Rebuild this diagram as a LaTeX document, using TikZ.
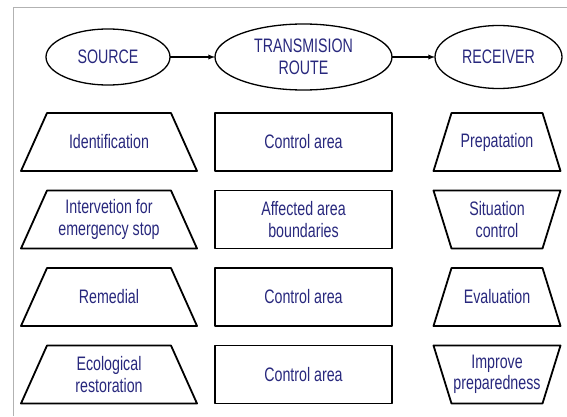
\documentclass[tikz,border=0pt]{standalone}
\usepackage{fontspec}
\setmainfont{Liberation Sans}[FakeStretch=0.73]
\usepackage{tikz}
\usetikzlibrary{arrows,shapes.geometric}
\definecolor{labelblue}{RGB}{40,40,125}

\begin{document}
\begin{tikzpicture}[x=1pt, y=1pt, node distance={77.5pt}, line width=1.8pt, line join=round,
  every node/.style = {text=labelblue, font=\fontsize{19.5}{21.5}\selectfont, align=center, inner sep=0pt, outer sep=0pt},
  main/.style = {draw, ellipse, line width=1.3pt},
  srcbox/.style = {rectangle, minimum width=176pt, minimum height=58pt},
  routebox/.style = {draw, rectangle, minimum width=177pt, minimum height=58pt},
  rcvbox/.style = {rectangle, minimum width=127pt, minimum height=58pt}]
\useasboundingbox (0,0) rectangle (567,416);
\draw[gray!60, line width=0.8pt] (13,0) -- (13,409) -- (567,409);

\node[main, minimum width=124pt, minimum height=56pt] (src) at (108,359) {SOURCE};
\node[main, minimum width=177pt, minimum height=66pt] (route) at (303.5,359) {TRANSMISION\\ROUTE};
\node[main, minimum width=127pt, minimum height=63pt] (rcv) at (498.5,359) {RECEIVER};
\draw[-latex, line width=1.3pt] (src) -- (route);
\draw[-latex, line width=1.3pt] (route) -- (rcv);

\node[srcbox] (src1) at (109,274) {Identification};
\node[srcbox] (src2) [below of=src1] {Intervetion for\\emergency stop};
\node[srcbox] (src3) [below of=src2] {Remedial};
\node[srcbox] (src4) [below of=src3] {Ecological\\restoration};

\node[routebox] (rt1) at (303.5,274) {Control area};
\node[routebox] (rt2) [below of=rt1] {Affected area\\boundaries};
\node[routebox] (rt3) [below of=rt2] {Control area};
\node[routebox] (rt4) [below of=rt3] {Control area};

\node[rcvbox] (rcv1) at (497,274) {Prepatation};
\node[rcvbox] (rcv2) [below of=rcv1] {Situation\\control};
\node[rcvbox] (rcv3) [below of=rcv2] {Evaluation};
\node[rcvbox] (rcv4) [below of=rcv3] {Improve\\preparedness};

% trapezium outlines
\foreach \n in {src1,src2,src3,src4}
  \draw (\n.south west) -- ([xshift=26pt]\n.north west) -- ([xshift=-26pt]\n.north east) -- (\n.south east) -- cycle;
\foreach \n in {rcv1,rcv3}
  \draw (\n.south west) -- ([xshift=18pt]\n.north west) -- ([xshift=-18pt]\n.north east) -- (\n.south east) -- cycle;
\foreach \n in {rcv2,rcv4}
  \draw (\n.north west) -- ([xshift=18pt]\n.south west) -- ([xshift=-18pt]\n.south east) -- (\n.north east) -- cycle;

\end{tikzpicture}
\end{document}
